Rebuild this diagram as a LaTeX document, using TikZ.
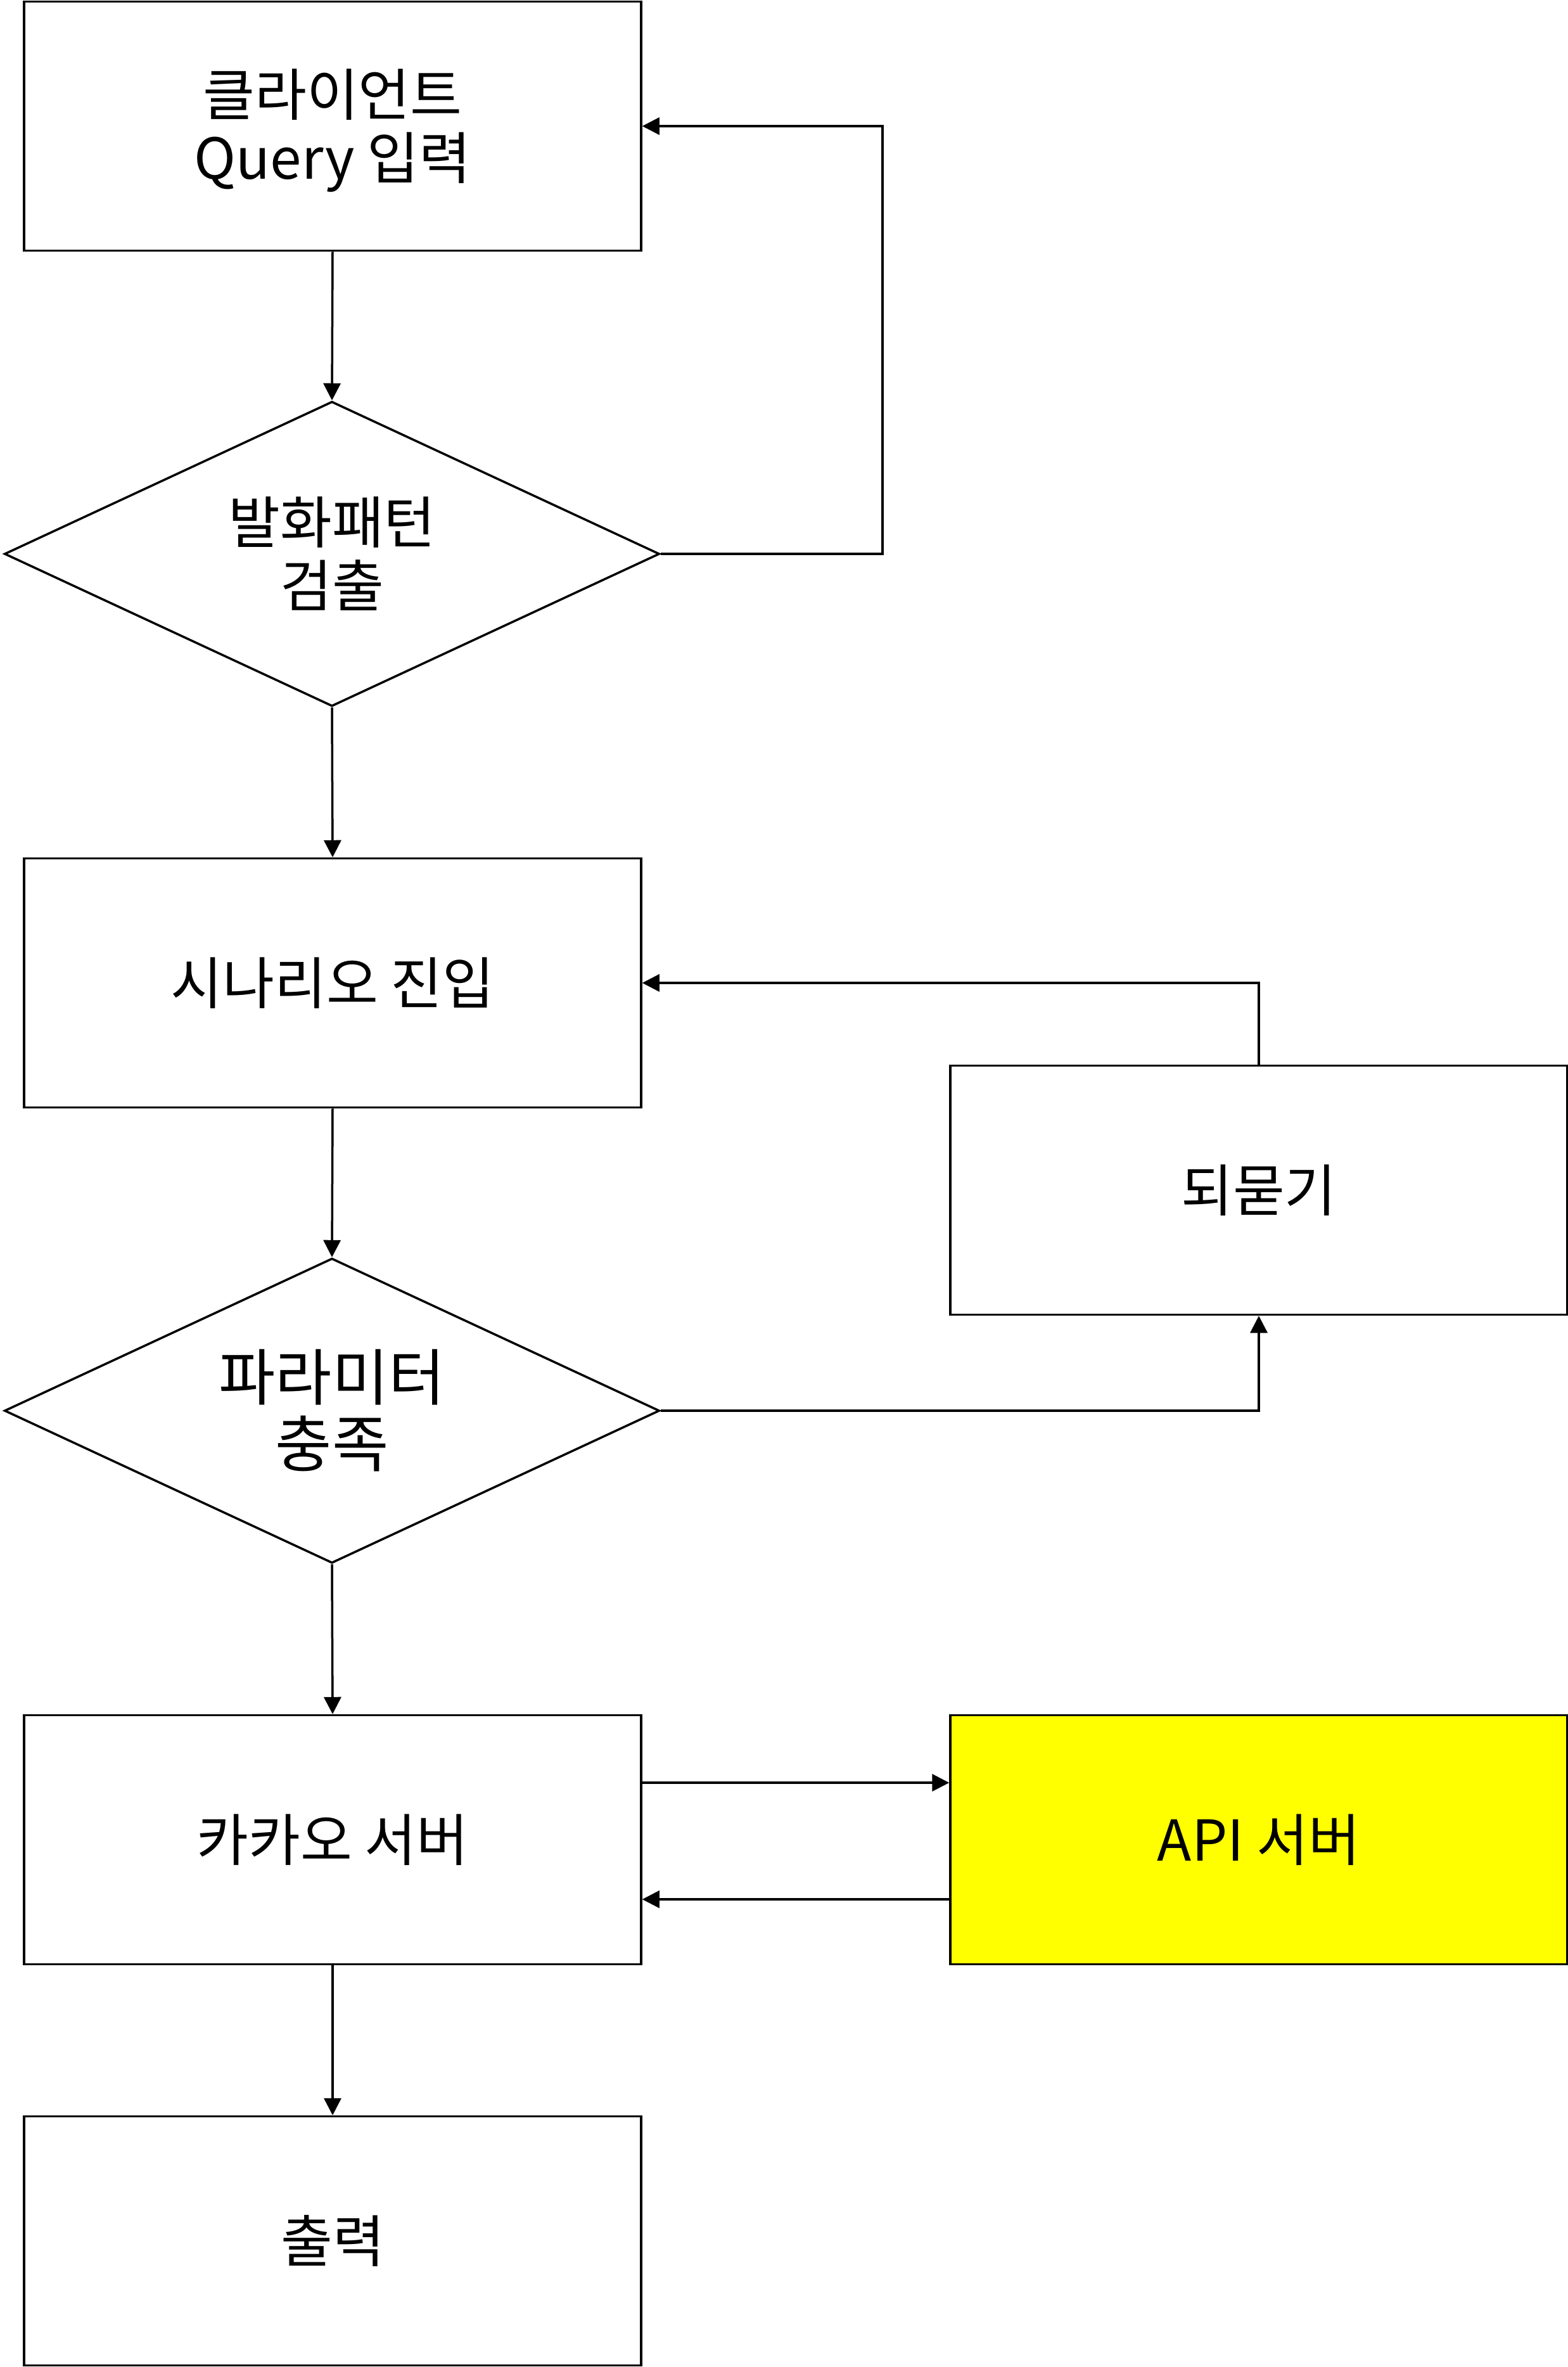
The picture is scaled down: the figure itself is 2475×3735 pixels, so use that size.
\documentclass[tikz,border=0pt]{standalone}
\usepackage{fontspec}
\setmainfont{Noto Sans CJK KR}
\usetikzlibrary{shapes.geometric,arrows.meta}
\definecolor{apiyellow}{RGB}{255,255,0}
\begin{document}
\begin{tikzpicture}[x=1pt,y=1pt,
  lbl/.style={font=\fontsize{89}{100}\selectfont, align=center, inner sep=0pt, line width=3.5pt, draw=black},
  boxnode/.style={lbl, rectangle, minimum width=974pt, minimum height=393pt},
  decnode/.style={lbl, diamond, minimum width=1034pt, minimum height=481pt, aspect=2.15},
  conn/.style={line width=3.5pt, -{Triangle[length=27pt,width=27pt]}}]
\useasboundingbox (0,0) rectangle (2475,-3735);
\node[boxnode, text depth=1.2ex] (q) at (525,-199) {클라이언트\\Query 입력};
\node[decnode] (d1) at (524,-874) {발화패턴\\검출};
\node[boxnode] (s) at (525,-1551) {시나리오 진입};
\node[boxnode] (r) at (1987,-1878) {되묻기};
\node[decnode, font=\fontsize{97}{105}\selectfont] (d2) at (524,-2226) {파라미터\\충족};
\node[boxnode] (k) at (525,-2903) {카카오 서버};
\node[boxnode, fill=apiyellow] (a) at (1987,-2903) {API 서버};
\node[boxnode] (o) at (525,-3536) {출력};
\coordinate (loop1) at (1393,-874);
\draw[conn] (q.south) -- (d1.north);
\draw[conn] (d1.south) -- (s.north);
\draw[conn] (s.south) -- (d2.north);
\draw[conn] (d2.south) -- (k.north);
\draw[conn] (k.south) -- (o.north);
\draw[conn] (d1.east) -- (loop1) |- (q.east);
\draw[conn] (r.north) |- (s.east);
\draw[conn] (d2.east) -| (r.south);
\draw[conn] ([yshift=90pt]k.east) -- ([yshift=90pt]a.west);
\draw[conn] ([yshift=-94pt]a.west) -- ([yshift=-94pt]k.east);
\end{tikzpicture}
\end{document}
